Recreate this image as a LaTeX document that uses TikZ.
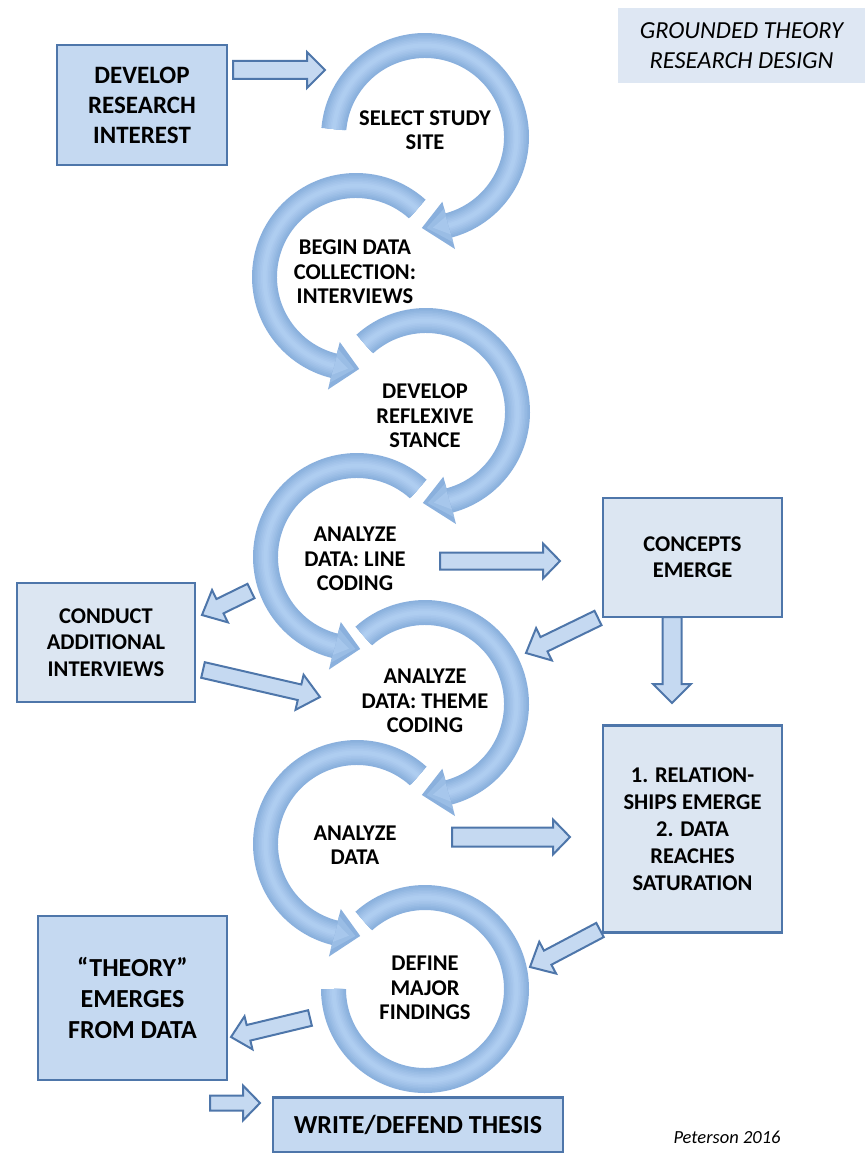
\documentclass[tikz,border=0pt]{standalone}
\usepackage{fontspec}
\setmainfont{Carlito}
\usetikzlibrary{calc}
\definecolor{boxA}{RGB}{197,217,241}
\definecolor{boxB}{RGB}{220,230,242}
\definecolor{bord}{RGB}{78,118,170}
\definecolor{circA}{RGB}{138,176,221}
\definecolor{circL}{RGB}{174,205,240}
\definecolor{titlebg}{RGB}{222,231,243}

\newcommand{\RadO}{104}
\newcommand{\RadI}{79}
\newcommand{\RadM}{91.5}

% tube-like shading along an arc: #2 start, #3 end
\newcommand{\tubeshade}[2]{%
  \foreach \w/\p in {22/12,19/28,16/44,13/60,10/74,7/88,4/100}
    \draw[circL!\p!circA,line width=\w pt] (#1:\RadM) arc[start angle=#1,end angle=#2,radius=\RadM];}

% clockwise ring with arrow head: #1 centre, #2 start angle, #3 end angle
\newcommand{\cwring}[3]{%
 \begin{scope}[shift={#1},yscale=-1]
  \fill[circA] (#2:\RadI) -- (#2:\RadO) arc[start angle=#2,end angle=#3,radius=\RadO]
    -- (#3:116) -- ({#3-17}:91) -- (#3:67) -- (#3:\RadI)
    arc[start angle=#3,end angle=#2,radius=\RadI] -- cycle;
  \fill[circL!45!circA] (#3:109) -- ({#3-14}:91) -- (#3:74) -- cycle;
  \fill[circL!80!circA] (#3:101) -- ({#3-10}:91) -- (#3:82) -- cycle;
  \tubeshade{#2}{#3}
 \end{scope}}
% counter-clockwise ring with arrow head
\newcommand{\ccwring}[3]{%
 \begin{scope}[shift={#1},yscale=-1]
  \fill[circA] (#2:\RadI) -- (#2:\RadO) arc[start angle=#2,end angle=#3,radius=\RadO]
    -- (#3:116) -- ({#3+16}:92) -- (#3:67) -- (#3:\RadI)
    arc[start angle=#3,end angle=#2,radius=\RadI] -- cycle;
  \fill[circL!45!circA] (#3:109) -- ({#3+13}:92) -- (#3:74) -- cycle;
  \fill[circL!80!circA] (#3:101) -- ({#3+9}:92) -- (#3:82) -- cycle;
  \tubeshade{#2}{#3}
 \end{scope}}
% ring without head
\newcommand{\plainring}[3]{%
 \begin{scope}[shift={#1},yscale=-1]
  \fill[circA] (#2:\RadI) -- (#2:\RadO) arc[start angle=#2,end angle=#3,radius=\RadO]
    -- (#3:\RadI) arc[start angle=#3,end angle=#2,radius=\RadI] -- cycle;
  \tubeshade{#2}{#3}
 \end{scope}}
% block arrow: #1 tail, #2 tip, #3 shaft half width, #4 head half width, #5 head length
\newcommand{\barrow}[5]{%
 \coordinate (bah) at ($(#2)!#5!(#1)$);
 \draw[blockarrow] ($(#1)!#3!90:(#2)$) -- ($(bah)!#3!90:(#2)$) -- ($(bah)!#4!90:(#2)$)
   -- (#2) -- ($(bah)!#4!-90:(#2)$) -- ($(bah)!#3!-90:(#2)$) -- ($(#1)!#3!-90:(#2)$) -- cycle;}

\tikzset{
 blockarrow/.style={fill=boxA,draw=bord,line width=2pt,line join=miter},
 box/.style={draw=bord,line width=2.4pt,inner sep=0pt,align=center,font=\bfseries},
 lbl/.style={inner sep=0pt,align=center,font=\bfseries\fontsize{22.5}{24.5}\selectfont},
}

\begin{document}
\begin{tikzpicture}[x=1pt,y=-1pt]
\useasboundingbox (0,0) rectangle (865,1153);

% circular arrows
\cwring{(425,137)}{175}{-75}
\ccwring{(356,277)}{48}{256}
\cwring{(426,412)}{132}{-75}
\ccwring{(357,557)}{48}{256}
\cwring{(425,704)}{132}{-75}
\ccwring{(357,844)}{48}{256}
\plainring{(425,989)}{132}{-180}

% block arrow end points
\coordinate (a1t) at (233,70);   \coordinate (a1h) at (325,70);
\coordinate (a2t) at (251,591);  \coordinate (a2h) at (202,615);
\coordinate (a3t) at (203,670);  \coordinate (a3h) at (320,697);
\coordinate (a4t) at (440,561);  \coordinate (a4h) at (560,561);
\coordinate (a5t) at (598,618);  \coordinate (a5h) at (526,653);
\coordinate (a6t) at (672,617);  \coordinate (a6h) at (672,703);
\coordinate (a7t) at (452,837);  \coordinate (a7h) at (570,837);
\coordinate (a8t) at (600,930);  \coordinate (a8h) at (530,967);
\coordinate (a9t) at (310,1018); \coordinate (a9h) at (231,1037);
\coordinate (a10t) at (210,1103);\coordinate (a10h) at (260,1103);

\barrow{a1t}{a1h}{9pt}{18pt}{18pt}
\barrow{a2t}{a2h}{8pt}{18pt}{20pt}
\barrow{a3t}{a3h}{8pt}{18pt}{21pt}
\barrow{a4t}{a4h}{8.5pt}{17.5pt}{17pt}
\barrow{a5t}{a5h}{8pt}{18pt}{20pt}
\barrow{a6t}{a6h}{9.5pt}{19pt}{19pt}
\barrow{a7t}{a7h}{9.5pt}{17.5pt}{17pt}
\barrow{a8t}{a8h}{8pt}{18pt}{20pt}
\barrow{a9t}{a9h}{8pt}{17pt}{18pt}
\barrow{a10t}{a10h}{7.5pt}{17.5pt}{17pt}

% boxes
\node[box,fill=boxA,minimum width=170pt,minimum height=120pt,font=\bfseries\fontsize{25}{30}\selectfont] (dev) at (142,105) {DEVELOP\\RESEARCH\\INTEREST};
\node[inner sep=0pt,fill=titlebg,minimum width=247pt,minimum height=75pt,align=center,font=\itshape\fontsize{24.5}{30}\selectfont] (title) at (741.5,46) {GROUNDED THEORY\\RESEARCH DESIGN};
\node[box,fill=boxB,minimum width=178pt,minimum height=119pt,font=\bfseries\fontsize{22.5}{26.5}\selectfont] (cond) at (106,642.5) {CONDUCT\\ADDITIONAL\\INTERVIEWS};
\node[box,fill=boxB,minimum width=179pt,minimum height=119pt,font=\bfseries\fontsize{22.5}{26}\selectfont] (conc) at (692.5,557.5) {CONCEPTS\\EMERGE};
\node[box,fill=boxB,minimum width=179pt,minimum height=207pt,font=\bfseries\fontsize{22.5}{27}\selectfont] (rel) at (692.5,829) {1. RELATION-\\SHIPS EMERGE\\2. DATA\\REACHES\\SATURATION};
\node[box,fill=boxA,minimum width=189pt,minimum height=164pt,font=\bfseries\fontsize{26}{31}\selectfont] (theo) at (132.5,998) {“THEORY”\\EMERGES\\FROM DATA};
\node[box,fill=boxA,minimum width=290pt,minimum height=55pt,font=\bfseries\fontsize{26}{31}\selectfont] (write) at (418,1125) {WRITE/DEFEND THESIS};
\node[inner sep=0pt,font=\itshape\fontsize{18.5}{22}\selectfont] (pet) at (727,1137) {Peterson 2016};

% circle labels
\node[lbl] (c1) at (425,130) {SELECT STUDY\\SITE};
\node[lbl] (c2) at (355,272) {BEGIN DATA\\COLLECTION:\\INTERVIEWS};
\node[lbl] (c3) at (425,416) {DEVELOP\\REFLEXIVE\\STANCE};
\node[lbl] (c4) at (355,559) {ANALYZE\\DATA: LINE\\CODING};
\node[lbl] (c5) at (425,701) {ANALYZE\\DATA: THEME\\CODING};
\node[lbl] (c6) at (355,845) {ANALYZE\\DATA};
\node[lbl] (c7) at (425,988) {DEFINE\\MAJOR\\FINDINGS};
\end{tikzpicture}
\end{document}
